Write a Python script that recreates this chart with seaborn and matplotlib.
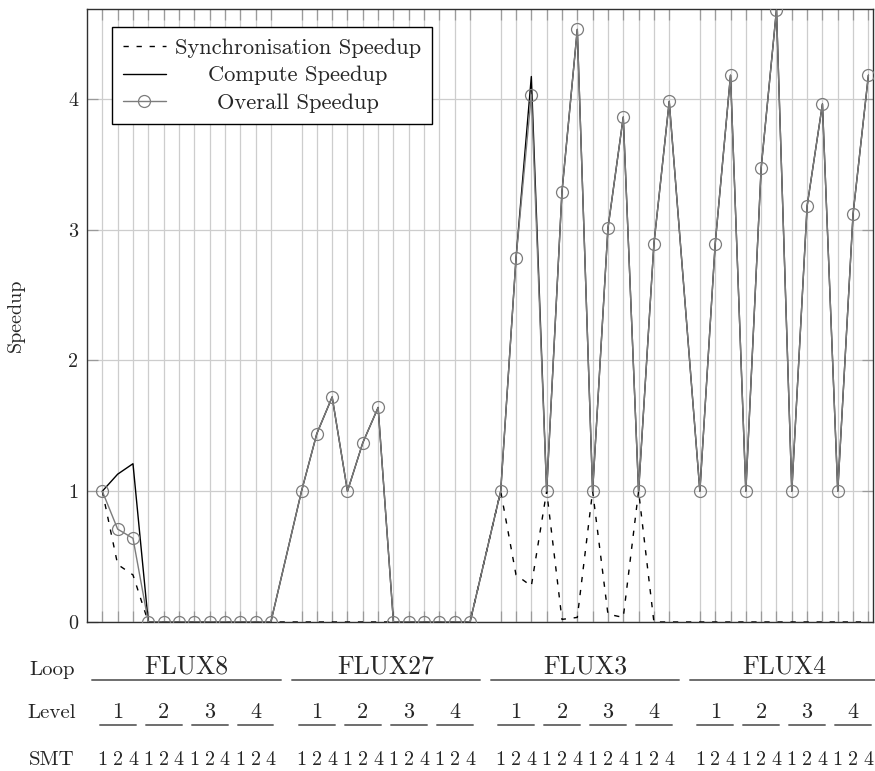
import numpy as np
import pandas as pd
import matplotlib
matplotlib.use("Agg")
import matplotlib.pyplot as plt
import matplotlib.transforms as mtransforms
from matplotlib.lines import Line2D
import seaborn as sns

# ---------------- data ----------------
loops = ["FLUX8", "FLUX27", "FLUX3", "FLUX4"]
levels = ["1", "2", "3", "4"]
smt = ["1", "2", "4"]

overall_flux8 = [1.0, 0.71, 0.64, 0, 0, 0, 0, 0, 0, 0, 0, 0]
overall_flux27 = [1.0, 1.44, 1.72, 1.0, 1.37, 1.64, 0, 0, 0, 0, 0, 0]
overall_flux3 = [1.0, 2.78, 4.03, 1.0, 3.29, 4.53, 1.0, 3.01, 3.86, 1.0, 2.89, 3.98]
overall_flux4 = [1.0, 2.89, 4.18, 1.0, 3.47, 4.68, 1.0, 3.18, 3.96, 1.0, 3.12, 4.18]

compute_flux8 = [1.0, 1.13, 1.21, 0, 0, 0, 0, 0, 0, 0, 0, 0]
compute_flux27 = [1.0, 1.44, 1.72, 1.0, 1.37, 1.64, 0, 0, 0, 0, 0, 0]
compute_flux3 = [1.0, 2.78, 4.17, 1.0, 3.29, 4.53, 1.0, 3.01, 3.86, 1.0, 2.89, 3.98]
compute_flux4 = [1.0, 2.89, 4.18, 1.0, 3.47, 4.68, 1.0, 3.18, 3.96, 1.0, 3.12, 4.18]

sync_flux8 = [1.0, 0.44, 0.36, 0, 0, 0, 0, 0, 0, 0, 0, 0]
sync_flux27 = [0, 0, 0, 0, 0, 0, 0, 0, 0, 0, 0, 0]
sync_flux3 = [1.0, 0.36, 0.275, 1.0, 0.02, 0.035, 1.0, 0.06, 0.035, 1.0, 0.0, 0.0]
sync_flux4 = [0, 0, 0, 0, 0, 0, 0, 0, 0, 0, 0, 0]

overall = overall_flux8 + overall_flux27 + overall_flux3 + overall_flux4
compute = compute_flux8 + compute_flux27 + compute_flux3 + compute_flux4
sync = sync_flux8 + sync_flux27 + sync_flux3 + sync_flux4

# positions: one empty slot between loops
pos = []
for li in range(len(loops)):
    for lv in range(len(levels)):
        for si in range(len(smt)):
            pos.append(li * 13 + lv * 3 + si)
pos = np.array(pos)

df = pd.DataFrame({"pos": pos, "overall": overall, "compute": compute, "sync": sync})

# ---------------- style ----------------
sns.set_style("white")
plt.rcParams["font.family"] = ["cmr10"]
plt.rcParams["mathtext.fontset"] = "cm"
plt.rcParams["axes.formatter.use_mathtext"] = True
plt.rcParams["axes.unicode_minus"] = False

W, H = 875, 771
fig = plt.figure(figsize=(W / 100, H / 100), dpi=100)
ax_l, ax_r, ax_t, ax_b = 86.7, 873.0, 8.5, 622.0
ax = fig.add_axes([ax_l / W, 1 - ax_b / H, (ax_r - ax_l) / W, (ax_b - ax_t) / H])

grid_c = "#cdcdcd"
ov_c = "#7c7c7c"
DASH = (3.8, 5.6)
ax.set_axisbelow(True)

sns.lineplot(data=df, x="pos", y="sync", ax=ax, color="black", lw=1.0,
             sort=False, estimator=None, zorder=3)
ax.lines[-1].set_linestyle((0, DASH))
sns.lineplot(data=df, x="pos", y="compute", ax=ax, color="black", lw=1.0,
             sort=False, estimator=None, zorder=4)
sns.lineplot(data=df, x="pos", y="overall", ax=ax, color=ov_c, lw=1.0,
             marker="o", markersize=8.6, markerfacecolor="none",
             markeredgecolor=ov_c, markeredgewidth=0.9,
             sort=False, estimator=None, zorder=5)

ax.set_xlim(-1.02, 50.3)
ax.set_ylim(0, 4.69)
ax.set_xticks(pos)
ax.set_xticklabels([])
ax.set_yticks([0, 1, 2, 3, 4])
ax.set_yticklabels(["0", "1", "2", "3", "4"])
ax.grid(True, color=grid_c, lw=0.9)
ax.tick_params(axis="x", direction="in", length=8, width=0.9, color="#9a9a9a",
               top=True, bottom=True, labelbottom=False)
ax.tick_params(axis="y", direction="in", length=8, width=0.9, color="#9a9a9a",
               left=True, right=True, labelsize=14.5, pad=6.3)
for s in ax.spines.values():
    s.set_color("#303030")
    s.set_linewidth(1.0)

ax.set_xlabel("")
ax.set_ylabel("Speedup", fontsize=14.5)
ax.yaxis.set_label_coords((25 - ax_l) / (ax_r - ax_l), 0.5)

# ---------------- legend ----------------
handles = [
    Line2D([], [], color="black", lw=1.0, linestyle=(0, DASH)),
    Line2D([], [], color="black", lw=1.0),
    Line2D([], [], color=ov_c, lw=1.0, marker="o", markersize=8.6,
           markerfacecolor="none", markeredgecolor=ov_c, markeredgewidth=0.9),
]
labels = ["Synchronisation Speedup", "Compute Speedup", "Overall Speedup"]
leg = ax.legend(handles, labels, loc="upper left",
                bbox_to_anchor=((111.7 - ax_l) / (ax_r - ax_l), (ax_b - 27.3) / (ax_b - ax_t)),
                borderaxespad=0, fontsize=16.2, frameon=True, fancybox=False,
                edgecolor="black", framealpha=1, handlelength=1.9,
                handletextpad=0.4, borderpad=0.5, labelspacing=0.33)
leg.get_frame().set_linewidth(1.0)
leg.set_zorder(10)

# ---------------- grouped x labels ----------------
trans = mtransforms.blended_transform_factory(ax.transData, fig.transFigure)
fy = lambda px: 1 - px / H
lab_c = "#6e6e6e"

for txt, ypx in [("Loop", 675), ("Level", 718), ("SMT", 765)]:
    fig.text(52 / W, fy(ypx), txt, ha="center", va="baseline", fontsize=15)

for li, lname in enumerate(loops):
    s = li * 13
    e = s + 11
    ax.text((s + e) / 2, fy(674), lname, transform=trans, ha="center",
            va="baseline", fontsize=18.5, clip_on=False)
    ax.add_line(Line2D([s - 0.65, e + 0.65], [fy(680), fy(680)], transform=trans,
                       color=lab_c, lw=1.4, clip_on=False))
    for lv, lvname in enumerate(levels):
        ls = s + lv * 3
        le = ls + 2
        ax.text((ls + le) / 2, fy(718), lvname, transform=trans, ha="center",
                va="baseline", fontsize=16, clip_on=False)
        ax.add_line(Line2D([ls - 0.17, le + 0.17], [fy(725), fy(725)], transform=trans,
                           color=lab_c, lw=1.4, clip_on=False))
        for si, sname in enumerate(smt):
            ax.text(ls + si, fy(765), sname, transform=trans, ha="center",
                    va="baseline", fontsize=14.5, clip_on=False)

# center legend texts like the reference
fig.canvas.draw()
r = fig.canvas.get_renderer()
ws = [t.get_window_extent(r).width for t in leg.get_texts()]
mw = max(ws)
for t, w in zip(leg.get_texts(), ws):
    t.set_position(((mw - w) / 2, 0))

fig.savefig("out.png", dpi=100)
